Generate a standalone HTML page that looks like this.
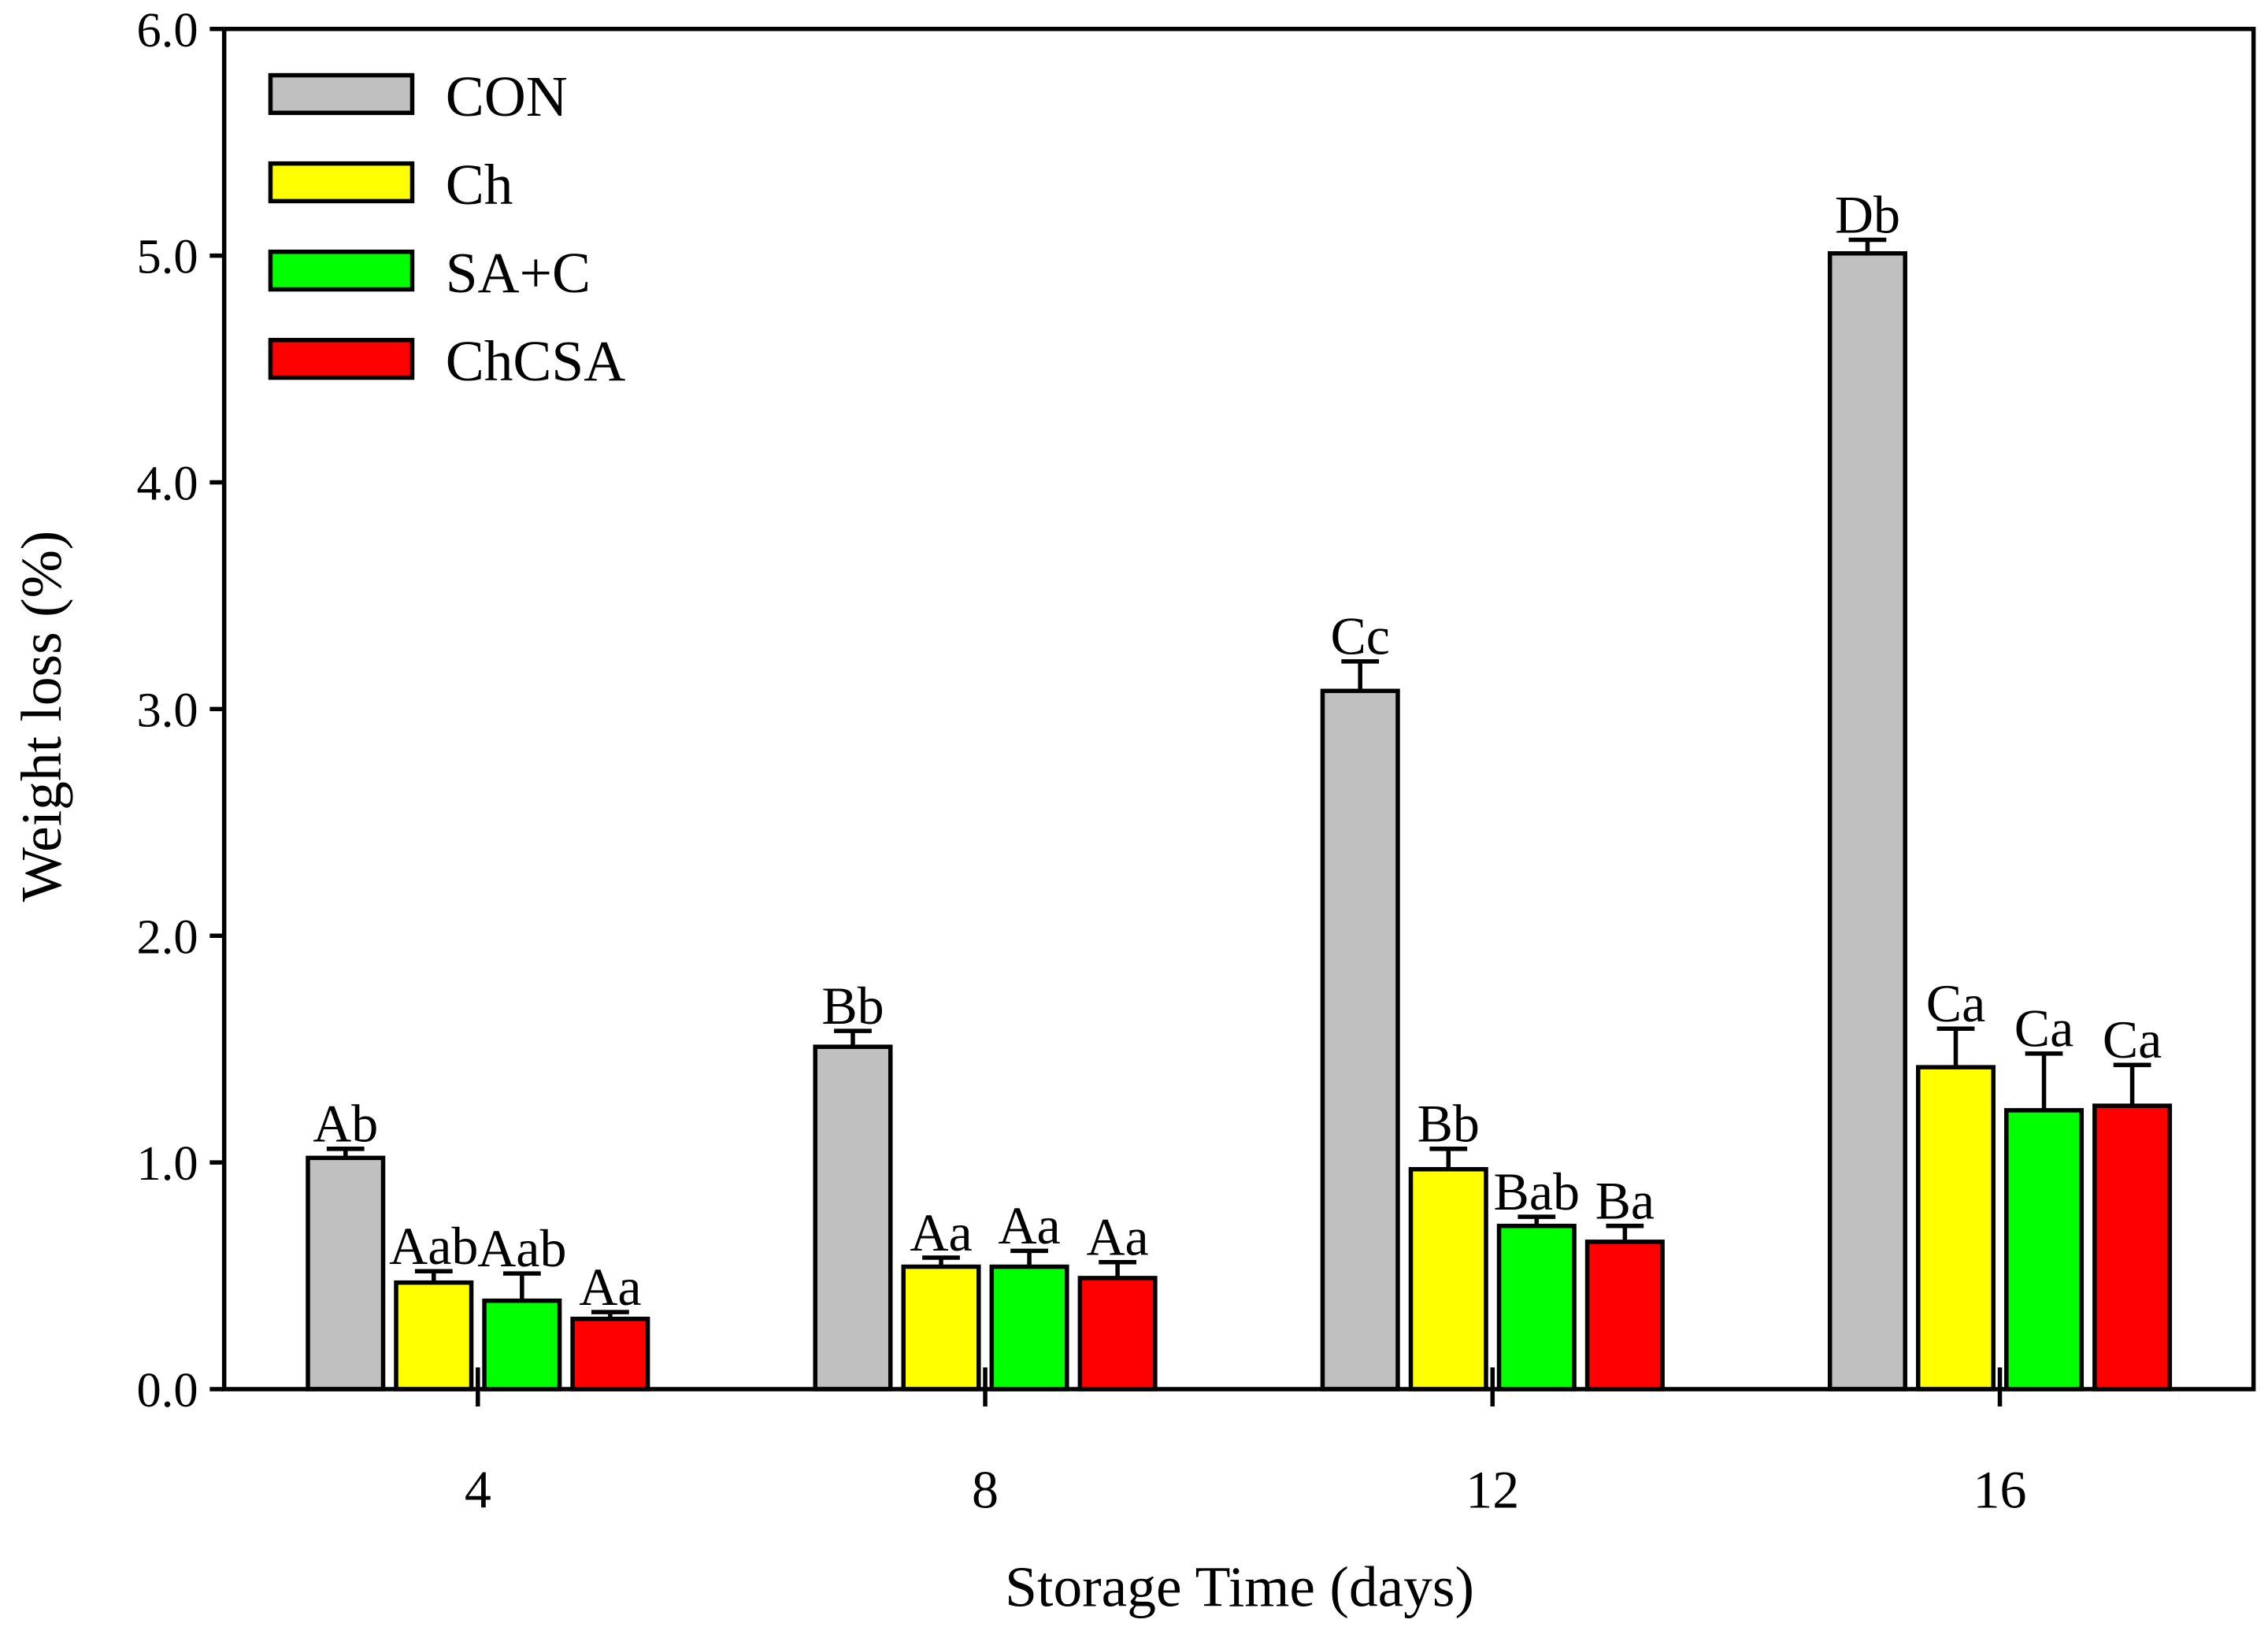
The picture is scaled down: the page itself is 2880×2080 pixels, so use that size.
<!DOCTYPE html>
<html><head><meta charset="utf-8"><style>
html,body{margin:0;padding:0;background:#fff}
svg{display:block}
text{font-family:"Liberation Serif",serif;fill:#000}
</style></head><body>
<svg id="chart" width="2880" height="2080" viewBox="0 0 1568 1132" preserveAspectRatio="none" xmlns="http://www.w3.org/2000/svg"></svg>
<script>
const categories = ["4","8","12","16"];
const seriesNames = ["CON","Ch","SA+C","ChCSA"];
const seriesColors = ["#c0c0c0","#ffff00","#00ff00","#ff0000"];
const conValues = [1.02,1.51,3.08,5.01];
const chValues = [0.47,0.54,0.97,1.42];
const sacValues = [0.39,0.54,0.72,1.23];
const chcsaValues = [0.31,0.49,0.65,1.25];
const conErr = [0.04,0.07,0.13,0.06];
const chErr = [0.05,0.04,0.09,0.17];
const sacErr = [0.12,0.07,0.04,0.25];
const chcsaErr = [0.03,0.07,0.07,0.18];
const conLetters = ["Ab","Bb","Cc","Db"];
const chLetters = ["Aab","Aa","Bb","Ca"];
const sacLetters = ["Aab","Aa","Bab","Ca"];
const chcsaLetters = ["Aa","Aa","Ba","Ca"];
const yTicks = [0,1,2,3,4,5,6];
const yTickLabels = ["0.0","1.0","2.0","3.0","4.0","5.0","6.0"];

const values=[conValues,chValues,sacValues,chcsaValues];
const errs=[conErr,chErr,sacErr,chcsaErr];
const letters=[conLetters,chLetters,sacLetters,chcsaLetters];
const L=155,R=1558,T=20,B=960;
const yS=v=>B-(v/6)*(B-T);
const groupW=(R-L)/categories.length;
const xC=i=>L+groupW*(i+0.5);
const barStep=61,barW=52;
const svg=document.getElementById('chart');
const NS="http://www.w3.org/2000/svg";
function mk(tag,attrs,parent){const e=document.createElementNS(NS,tag);for(const k in attrs)e.setAttribute(k,attrs[k]);(parent||svg).appendChild(e);return e;}

values.forEach((vals,s)=>{vals.forEach((v,i)=>{
  const x=xC(i)+(s-1.5)*barStep-barW/2;
  const b=mk('rect',{x:x,y:yS(v),width:barW,height:B-yS(v),fill:seriesColors[s],stroke:'#000','stroke-width':3});
  
  
  const cx=xC(i)+(s-1.5)*barStep, top=yS(v+errs[s][i]);
  const e=mk('path',{d:`M${cx},${yS(v)}V${top}M${cx-13},${top}H${cx+13}`,stroke:'#000','stroke-width':3,fill:'none'});
  
  
  const t=mk('text',{x:cx,y:top-5,'font-size':37,'text-anchor':'middle'});
  t.textContent=letters[s][i];
  
  
});});

const ax=mk('path',{d:`M${L},${T}V${B}H${R}V${T}H${L}`,stroke:'#000','stroke-width':3,fill:'none'});


yTicks.forEach((v,i)=>{
  mk('line',{x1:L-10,x2:L,y1:yS(v),y2:yS(v),stroke:'#000','stroke-width':3});
  const t=mk('text',{x:L-18,y:yS(v)+12,'font-size':34,'text-anchor':'end'});
  t.textContent=yTickLabels[i];
  
  
});
categories.forEach((c,i)=>{
  mk('line',{x1:xC(i),x2:xC(i),y1:B-15,y2:B+12,stroke:'#000','stroke-width':3});
  const t=mk('text',{x:xC(i),y:1042,'font-size':37,'text-anchor':'middle'});
  t.textContent=c;
  
  
});
const xt=mk('text',{x:857,y:1110,'font-size':40,'text-anchor':'middle'});
xt.textContent="Storage Time (days)";


const yt=mk('text',{x:0,y:0,'font-size':40,'text-anchor':'middle',transform:'translate(42,495) rotate(-90)'});
yt.textContent="Weight loss (%)";



seriesNames.forEach((n,s)=>{
  const y=52+s*61;
  const r=mk('rect',{x:187,y:y,width:98,height:26,fill:seriesColors[s],stroke:'#000','stroke-width':3});
  
  
  const t=mk('text',{x:308,y:y+28,'font-size':40});
  t.textContent=n;
  
  
});
</script>
</body></html>
